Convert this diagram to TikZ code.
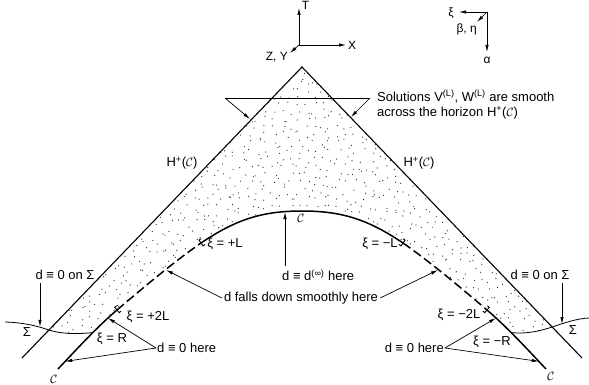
\documentclass[tikz,border=0pt]{standalone}
\usepackage{fontspec}
\setmainfont{Liberation Sans}
\usetikzlibrary{arrows.meta,calc}
\begin{document}
\begin{tikzpicture}[x=1pt,y=-1pt,
  lbl/.style={font=\fontsize{13}{15}\selectfont, inner sep=0pt},
  sml/.style={font=\fontsize{12}{14}\selectfont, inner sep=0pt},
  arr/.style={line width=0.7pt, -{Latex[length=7pt,width=3.4pt]}},
  lead/.style={line width=0.7pt},
  hor/.style={line width=1.1pt},
  curv/.style={line width=1.5pt},
  dsh/.style={line width=1.5pt, dash pattern=on 9pt off 4pt},
  sig/.style={line width=0.8pt},
  tk/.style={line width=0.9pt}]
\useasboundingbox (0,0) rectangle (589,385);
% key points
\coordinate (apex) at (302,67);
\coordinate (hl) at (22,358);
\coordinate (hr) at (582,358);
\coordinate (sl) at (49,330);
\coordinate (sr) at (552.2,327);
\coordinate (top) at (302,211);
\coordinate (pL) at (201,243);
\coordinate (mL) at (403,243);
\coordinate (p2L) at (117,310);
\coordinate (m2L) at (487,310);
\coordinate (jL) at (92.8,332.6);
\coordinate (jR) at (511.2,332.6);
\coordinate (eL) at (58,369);
\coordinate (eR) at (546,369);
% stipple
\begin{scope}
\clip (apex) -- (sl) .. controls (61,334) and (77,334.2) .. (jL)
  .. controls (100.84,324.56) and (109,316.8) .. (p2L)
  .. controls (145,286.2) and (173,262.6) .. (pL)
  .. controls (236,219.5) and (262,211) .. (top)
  .. controls (342,211) and (368,219.5) .. (mL)
  .. controls (431,262.6) and (459,286.2) .. (m2L)
  .. controls (495,316.8) and (503.16,324.56) .. (jR)
  .. controls (527,334.2) and (540,331) .. (sr) -- cycle;
\pgfmathsetseed{4321}
\foreach \gx in {22,30,...,582}{
  \foreach \gy in {67,75,...,347}{
    \pgfmathsetmacro\rx{\gx+8*rnd}
    \pgfmathsetmacro\ry{\gy+8*rnd}
    \fill[black!85] (\rx,\ry) circle[radius=0.62pt];
  }
}
\end{scope}
% horizons
\draw[hor] (hl) -- (apex) -- (hr);
% Sigma
\draw[sig] (5,322) .. controls (22,322.5) and (36,325.5) .. (sl) .. controls (61,334) and (77,334.2) .. (jL);
\draw[sig] (jR) .. controls (527,334.2) and (540,331) .. (sr) .. controls (564,323) and (577,318.5) .. (589,318);
% curve C
\draw[curv] (eL) .. controls (76,350) and (97,327) .. (p2L);
\draw[dsh] (p2L) .. controls (145,286.2) and (173,262.6) .. (pL);
\draw[curv] (pL) .. controls (236,219.5) and (262,211) .. (top) .. controls (342,211) and (368,219.5) .. (mL);
\draw[dsh] (mL) .. controls (431,262.6) and (459,286.2) .. (m2L);
\draw[curv] (m2L) .. controls (507,327) and (528,350) .. (eR);
% ticks
\draw[tk] ($(pL)+(4.06,1.44)$) -- ++(-2.05,1.43) -- ++(-4.02,-5.74) -- ++(2.05,-1.43);
\draw[tk] ($(mL)+(-4.06,1.44)$) -- ++(2.05,1.43) -- ++(4.02,-5.74) -- ++(-2.05,-1.43);
\draw[tk] ($(p2L)+(4.18,1.05)$) -- ++(-1.91,1.62) -- ++(-4.54,-5.34) -- ++(1.91,-1.62);
\draw[tk] ($(m2L)+(-4.18,1.05)$) -- ++(1.91,1.62) -- ++(4.54,-5.34) -- ++(-1.91,-1.62);
% axes top left
\coordinate (o1) at (299,45);
\coordinate (aT) at (299,8);
\coordinate (aX) at (346,45);
\coordinate (aY) at (290,53);
\draw[arr] (o1) -- (aT);
\draw[arr] (o1) -- (aX);
\draw[arr] (o1) -- (aY);
\node[sml] (lT) at (305.5,5.5) {T};
\node[sml] (lX) at (352,45) {X};
\node[sml,anchor=east] (lZY) at (288,57.5) {Z, Y};
% axes top right
\coordinate (o2) at (487,12);
\coordinate (bxi) at (459,12);
\coordinate (bbe) at (477,22);
\coordinate (bal) at (487,52);
\draw[arr] (o2) -- (bxi);
\draw[arr] (o2) -- (bbe);
\draw[arr] (o2) -- (bal);
\node[sml] (lxi) at (451,13) {ξ};
\node[sml,anchor=north east] (lbe) at (477,23.5) {β, η};
\node[sml] (lal) at (487,60) {α};
% solutions label
\node[lbl,anchor=west,align=left] (sol) at (377,104.5) {Solutions V\textsuperscript{(L)}, W\textsuperscript{(L)} are smooth\\across the horizon H\textsuperscript{+}($\mathcal{C}$)};
\coordinate (ldL) at (225,98);
\coordinate (ldR) at (370,98);
\coordinate (tipL) at (250,119);
\coordinate (tipR) at (351,117);
\draw[lead] (ldL) -- (ldR);
\draw[arr] (ldL) -- (tipL);
\draw[arr] (ldR) -- (tipR);
% horizon labels
\node[lbl] (hpl) at (182,163) {H\textsuperscript{+}($\mathcal{C}$)};
\node[lbl] (hpr) at (419,163) {H\textsuperscript{+}($\mathcal{C}$)};
\node[lbl] (ctop) at (301,218) {$\mathcal{C}$};
% xi labels
\node[lbl] (xiL) at (225,244) {ξ = +L};
\node[lbl] (ximL) at (380,244) {ξ = −L};
\node[lbl] (xi2L) at (148,317) {ξ = +2L};
\node[lbl] (xim2L) at (459,315) {ξ = −2L};
\node[lbl] (xiR) at (112,339) {ξ = R};
\node[lbl] (ximR) at (492,342) {ξ = −R};
% d labels
\node[lbl,anchor=west] (dinf) at (282,275) {d ≡ d\textsuperscript{(∞)} here};
\coordinate (dinfs) at (285,266);
\coordinate (dinft) at (285,212);
\draw[arr] (dinfs) -- (dinft);
\node[lbl] (dfall) at (301,298) {d falls down smoothly here};
\coordinate (fl) at (166,270);
\coordinate (fr) at (438,270);
\draw[arr] ([xshift=-2pt]dfall.west) -- (fl);
\draw[arr] ([xshift=2pt]dfall.east) -- (fr);
\node[lbl,anchor=west] (d0l) at (157,348) {d ≡ 0 here};
\node[lbl,anchor=east] (d0r) at (444,348) {d ≡ 0 here};
\coordinate (z1) at (108,318);
\coordinate (z2) at (65.2,361.4);
\coordinate (z3) at (496,318);
\coordinate (z4) at (538.8,361.4);
\draw[arr] ([xshift=-1pt]d0l.west) -- (z1);
\draw[arr] ([xshift=-1pt]d0l.west) -- (z2);
\draw[arr] ([xshift=1pt]d0r.east) -- (z3);
\draw[arr] ([xshift=1pt]d0r.east) -- (z4);
\node[lbl] (dsl) at (65,275) {d ≡ 0 on Σ};
\node[lbl] (dsr) at (540,275) {d ≡ 0 on Σ};
\coordinate (s1a) at (40,283);
\coordinate (s1b) at (40,326.8);
\coordinate (s2a) at (562,283);
\coordinate (s2b) at (562,324);
\draw[arr] (s1a) -- (s1b);
\draw[arr] (s2a) -- (s2b);
\node[lbl] (sigl) at (27,332) {Σ};
\node[lbl] (sigr) at (573,330) {Σ};
\node[lbl] (cbl) at (54,379) {$\mathcal{C}$};
\node[lbl] (cbr) at (551,376) {$\mathcal{C}$};
\end{tikzpicture}
\end{document}
